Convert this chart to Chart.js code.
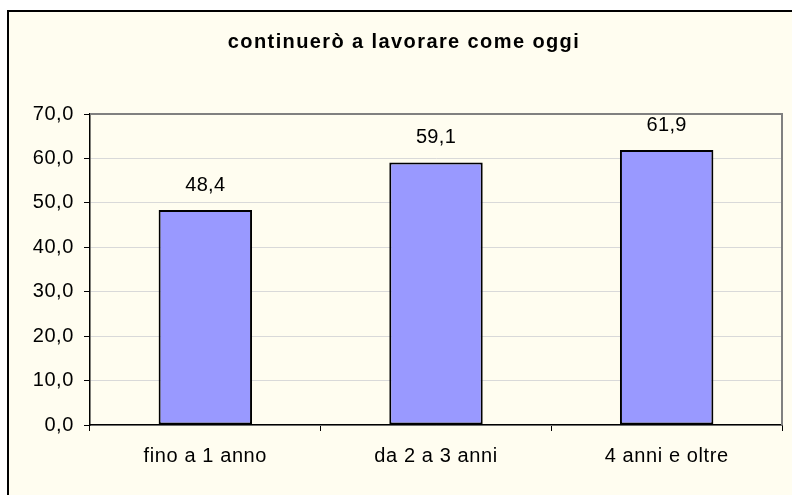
<!DOCTYPE html>
<html>
<head>
<meta charset="utf-8">
<script src="https://cdn.jsdelivr.net/npm/chart.js@4/dist/chart.umd.min.js"></script>
<style>
html,body{margin:0;padding:0;background:#fff;}
canvas{display:block;}
</style>
</head>
<body>
<canvas id="c" width="792" height="495"></canvas>
<script>
const categories = ["fino a 1 anno", "da 2 a 3 anni", "4 anni e oltre"];
const values = [48.4, 59.1, 61.9];
const titleText = "continuerò a lavorare come oggi";
const yMin = 0, yMax = 70, yStep = 10;

const fmt = v => Number(v).toFixed(1).replace('.', ',');
const FONT = "'Liberation Sans', Arial, sans-serif";
const FS = 20;

const frame = {
  id: 'frame',
  beforeDraw(chart) {
    const ctx = chart.ctx;
    ctx.save();
    ctx.fillStyle = '#ffffff';
    ctx.fillRect(0, 0, chart.width, chart.height);
    ctx.fillStyle = '#FFFDF0';
    ctx.fillRect(8, 11, chart.width - 8, chart.height - 11);
    ctx.strokeStyle = '#000';
    ctx.lineWidth = 2;
    ctx.beginPath();
    ctx.moveTo(8, chart.height);
    ctx.lineTo(8, 11);
    ctx.lineTo(chart.width, 11);
    ctx.stroke();
    // title
    ctx.fillStyle = '#000';
    ctx.font = "bold " + FS + "px " + FONT;
    ctx.letterSpacing = '1.4px';
    ctx.textAlign = 'center';
    ctx.textBaseline = 'alphabetic';
    ctx.fillText(titleText, 404, 48);
    ctx.restore();
    ctx.letterSpacing = '0.6px';
  },
  afterDatasetsDraw(chart) {
    const ctx = chart.ctx;
    const a = chart.chartArea;
    ctx.save();
    // plot area top/right border
    ctx.strokeStyle = '#808080';
    ctx.lineWidth = 2;
    ctx.beginPath();
    ctx.moveTo(a.left, a.top);
    ctx.lineTo(a.right, a.top);
    ctx.lineTo(a.right, a.bottom);
    ctx.stroke();
    // data labels
    ctx.fillStyle = '#000';
    ctx.font = FS + "px " + FONT;
    ctx.letterSpacing = '0.3px';
    ctx.textAlign = 'center';
    ctx.textBaseline = 'alphabetic';
    const meta = chart.getDatasetMeta(0);
    meta.data.forEach((bar, i) => {
      ctx.fillText(fmt(chart.data.datasets[0].data[i]), bar.x, bar.y - 19);
    });
    ctx.restore();
  },
  afterDraw(chart) {
    chart.ctx.letterSpacing = '0px';
  }
};

new Chart(document.getElementById('c'), {
  type: 'bar',
  data: {
    labels: categories,
    datasets: [{
      data: values,
      backgroundColor: '#9999FF',
      borderColor: '#000000',
      borderWidth: 2,
      borderSkipped: false,
      categoryPercentage: 1.0,
      barPercentage: 0.405
    }]
  },
  options: {
    responsive: false,
    animation: false,
    layout: { padding: { left: 0, right: 10, top: 114, bottom: 0 } },
    plugins: {
      legend: { display: false },
      tooltip: { enabled: false },
      title: { display: false }
    },
    scales: {
      x: {
        grid: {
          offset: true,
          drawOnChartArea: false,
          drawTicks: true,
          tickLength: 6,
          color: '#000',
          tickColor: '#000'
        },
        border: { color: '#000', width: 1.5 },
        ticks: {
          color: '#000',
          font: { family: FONT, size: FS },
          padding: 13
        },
        afterFit(s) { s.height = 70; }
      },
      y: {
        min: yMin,
        max: yMax,
        grid: {
          color: '#d9d9d9',
          tickColor: '#000',
          tickLength: 6,
          lineWidth: 1
        },
        border: { color: '#000', width: 1.5 },
        ticks: {
          stepSize: yStep,
          color: '#000',
          font: { family: FONT, size: FS },
          padding: 10,
          callback: v => fmt(v)
        },
        afterFit(s) { s.width = 90; }
      }
    }
  },
  plugins: [frame]
});
</script>
</body>
</html>
